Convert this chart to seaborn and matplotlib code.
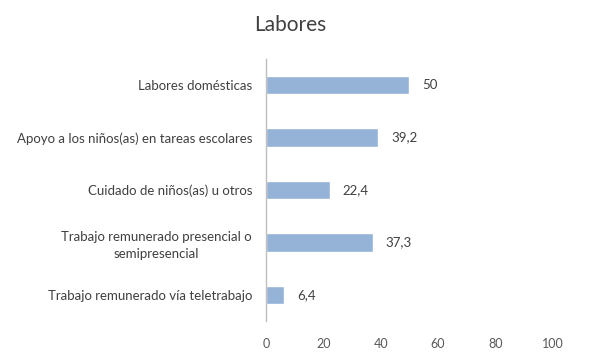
import matplotlib
matplotlib.use("Agg")
import matplotlib.pyplot as plt
import seaborn as sns
import pandas as pd

categories = [
    "Labores domésticas",
    "Apoyo a los niños(as) en tareas escolares",
    "Cuidado de niños(as) u otros",
    "Trabajo remunerado presencial o\nsemipresencial",
    "Trabajo remunerado vía teletrabajo",
]
values = [50, 39.2, 22.4, 37.3, 6.4]
value_labels = ["50", "39,2", "22,4", "37,3", "6,4"]
x_ticks = [0, 20, 40, 60, 80, 100]
title = "Labores"

sns.set_theme(style="white")
plt.rcParams["font.family"] = ["Lato", "DejaVu Sans"]

df = pd.DataFrame({"cat": categories, "val": values})

fig = plt.figure(figsize=(5.89, 3.64), dpi=100)
ax = fig.add_axes([0.4516, 0.118, 0.487, 0.72])
sns.barplot(data=df, y="cat", x="val", color="#95B3D7", saturation=1,
            width=0.35, ax=ax, orient="h")

ax.set_xlim(0, 100)
ax.set_xticks(x_ticks)
ax.set_xticklabels([str(t) for t in x_ticks], color="#595959", fontsize=9)
ax.set_xlabel("")
ax.set_ylabel("")
ax.tick_params(axis="x", length=0, pad=12)
ax.tick_params(axis="y", length=0, pad=10, labelsize=9.5, labelcolor="#404040")
for lbl in ax.get_yticklabels():
    lbl.set_horizontalalignment("right")
    lbl.set_multialignment("center")
    lbl.set_linespacing(1.5)

for s in ["top", "right", "bottom"]:
    ax.spines[s].set_visible(False)
ax.spines["left"].set_color("#BFBFBF")
ax.spines["left"].set_linewidth(1.0)

ax.bar_label(ax.containers[0], labels=value_labels, padding=9,
             color="#404040", fontsize=9.5)

fig.text(0.493, 0.93, title, ha="center", va="center", fontsize=15,
         color="#404040")

fig.savefig("out.png", dpi=100)
